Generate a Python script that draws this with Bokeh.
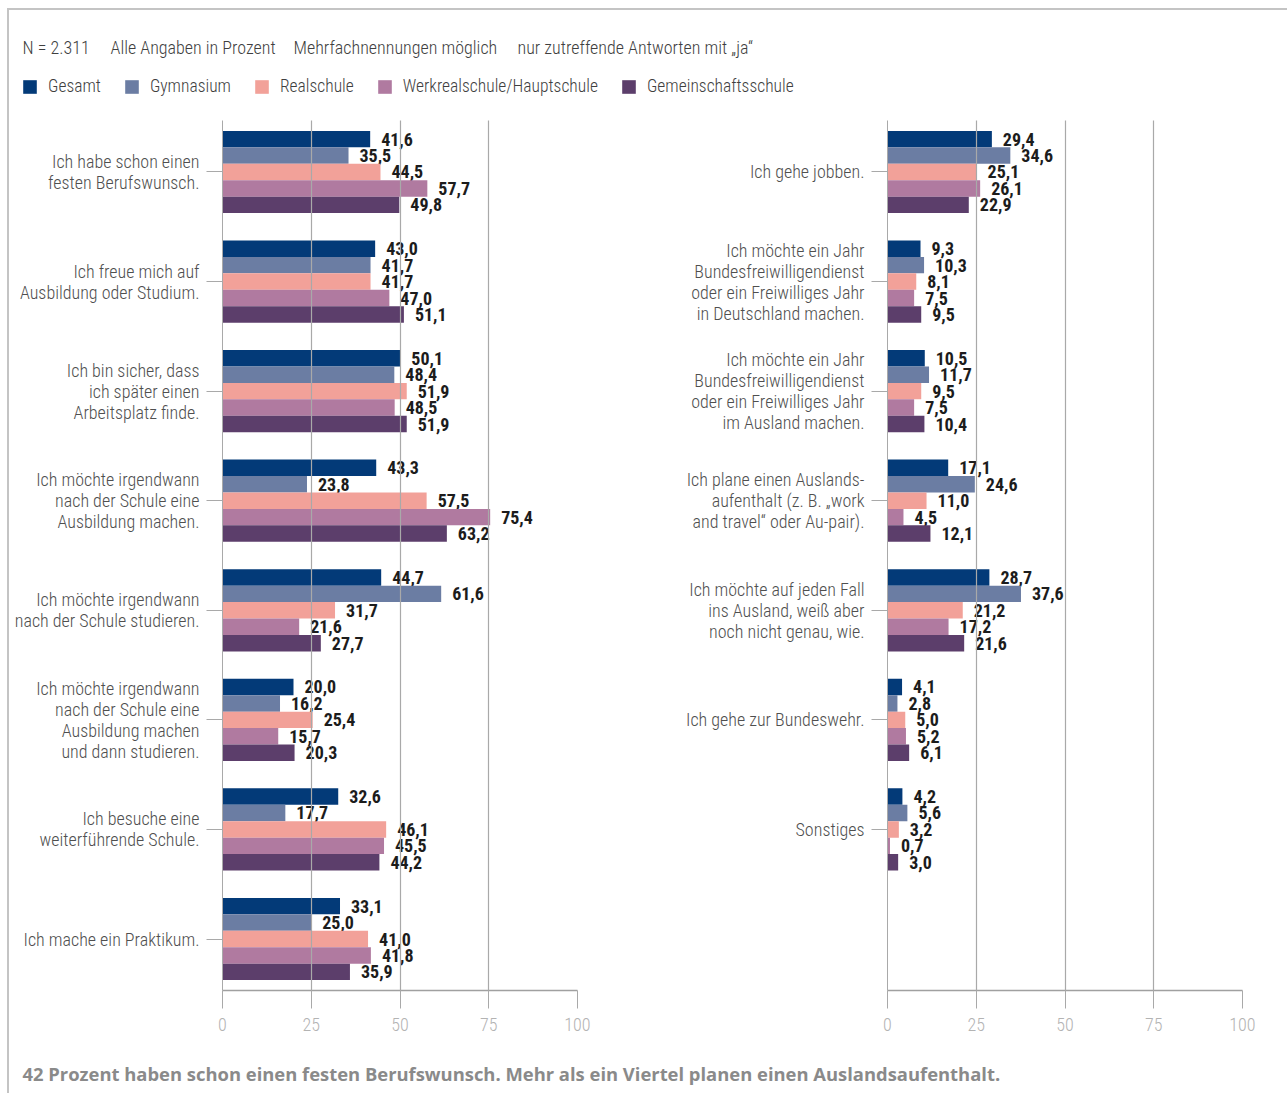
import numpy as np
import pandas as pd
from bokeh.plotting import figure
from bokeh.models import (Range1d, FixedTicker, ColumnDataSource, Legend, LegendItem, Label)
from bokeh.layouts import column, row
from bokeh.core.properties import value
from bokeh.embed import file_html
from bokeh.resources import INLINE

FONT = "Roboto Condensed, Roboto"
LIGHT_FONT = "Roboto Condensed Light, Roboto Condensed, Roboto"
FOOT_FONT = "Open Sans"

series = ["Gesamt", "Gymnasium", "Realschule", "Werkrealschule/Hauptschule", "Gemeinschaftsschule"]
colors = ["#033a78", "#6b7da3", "#f2a199", "#b07aa0", "#5c3e6b"]

header_texts = ["N = 2.311", "Alle Angaben in Prozent", "Mehrfachnennungen möglich",
                "nur zutreffende Antworten mit „ja“"]
footer_text = ("42 Prozent haben schon einen festen Berufswunsch. "
               "Mehr als ein Viertel planen einen Auslandsaufenthalt.")

x_ticks = [0, 25, 50, 75, 100]

left_categories = [
    "Ich habe schon einen\nfesten Berufswunsch.",
    "Ich freue mich auf\nAusbildung oder Studium.",
    "Ich bin sicher, dass\nich später einen\nArbeitsplatz finde.",
    "Ich möchte irgendwann\nnach der Schule eine\nAusbildung machen.",
    "Ich möchte irgendwann\nnach der Schule studieren.",
    "Ich möchte irgendwann\nnach der Schule eine\nAusbildung machen\nund dann studieren.",
    "Ich besuche eine\nweiterführende Schule.",
    "Ich mache ein Praktikum.",
]
left_gesamt = [41.6, 43.0, 50.1, 43.3, 44.7, 20.0, 32.6, 33.1]
left_gymnasium = [35.5, 41.7, 48.4, 23.8, 61.6, 16.2, 17.7, 25.0]
left_realschule = [44.5, 41.7, 51.9, 57.5, 31.7, 25.4, 46.1, 41.0]
left_werkreal = [57.7, 47.0, 48.5, 75.4, 21.6, 15.7, 45.5, 41.8]
left_gemeinschaft = [49.8, 51.1, 51.9, 63.2, 27.7, 20.3, 44.2, 35.9]

right_categories = [
    "Ich gehe jobben.",
    "Ich möchte ein Jahr\nBundesfreiwilligendienst\noder ein Freiwilliges Jahr\nin Deutschland machen.",
    "Ich möchte ein Jahr\nBundesfreiwilligendienst\noder ein Freiwilliges Jahr\nim Ausland machen.",
    "Ich plane einen Auslands-\naufenthalt (z. B. „work\nand travel“ oder Au-pair).",
    "Ich möchte auf jeden Fall\nins Ausland, weiß aber\nnoch nicht genau, wie.",
    "Ich gehe zur Bundeswehr.",
    "Sonstiges",
]
right_gesamt = [29.4, 9.3, 10.5, 17.1, 28.7, 4.1, 4.2]
right_gymnasium = [34.6, 10.3, 11.7, 24.6, 37.6, 2.8, 5.6]
right_realschule = [25.1, 8.1, 9.5, 11.0, 21.2, 5.0, 3.2]
right_werkreal = [26.1, 7.5, 7.5, 4.5, 17.2, 5.2, 0.7]
right_gemeinschaft = [22.9, 9.5, 10.4, 12.1, 21.6, 6.1, 3.0]

OFFSETS = [-0.3, -0.15, 0.0, 0.15, 0.3]
BAR_H = 0.15
GRID_C = "#a9a9a9"


def fmt(v):
    return f"{v:.1f}".replace(".", ",")


def make_panel(cats, vals, width, mbl, mbr):
    p = figure(width=width, height=935, output_backend="svg", toolbar_location=None,
               x_range=Range1d(0, 100), y_range=Range1d(7.47, -0.47),
               min_border_left=mbl, min_border_right=mbr, min_border_top=10,
               min_border_bottom=55)
    p.outline_line_color = None
    p.background_fill_color = "white"
    p.border_fill_color = "white"
    for name, col, off, v in zip(series, colors, OFFSETS, vals):
        df = pd.DataFrame({"idx": np.arange(len(cats)), "v": v})
        df["y"] = df["idx"] + off
        df["lab"] = [fmt(x) for x in v]
        src = ColumnDataSource(df)
        p.hbar(y="y", left=0, right="v", height=BAR_H, source=src,
               fill_color=col, line_color=None)
        p.text(x="v", y="y", text="lab", source=src, x_offset=11,
               text_align="left", text_baseline="middle",
               text_font=value(FONT), text_font_style="bold",
               text_font_size="18px", text_color="#1c1c1c")
    # y axis with category labels
    ya = p.yaxis[0]
    ya.ticker = FixedTicker(ticks=list(range(len(cats))))
    ya.major_label_overrides = {i: c for i, c in enumerate(cats)}
    ya.major_tick_out = 16
    ya.major_tick_in = 0
    ya.minor_tick_line_color = None
    ya.major_tick_line_color = GRID_C
    ya.axis_line_color = GRID_C
    ya.major_label_standoff = 7
    ya.major_label_text_font = LIGHT_FONT
    ya.major_label_text_font_size = "18px"
    ya.major_label_text_color = "#4f4f4f"
    ya.major_label_text_line_height = 1.0
    # x axis
    xa = p.xaxis[0]
    xa.ticker = FixedTicker(ticks=x_ticks)
    xa.major_tick_out = 18
    xa.major_tick_in = 0
    xa.minor_tick_line_color = None
    xa.major_tick_line_color = GRID_C
    xa.axis_line_color = "#a0a0a0"
    xa.axis_line_width = 1.5
    xa.major_label_standoff = 9
    xa.major_label_text_font = LIGHT_FONT
    xa.major_label_text_font_size = "18px"
    xa.major_label_text_color = "#b3b3b3"
    # grid
    p.xgrid.ticker = FixedTicker(ticks=x_ticks)
    p.xgrid.grid_line_color = GRID_C
    p.xgrid.grid_line_width = 1.2
    p.xgrid.level = "overlay"
    p.ygrid.visible = False
    return p


left_vals = [left_gesamt, left_gymnasium, left_realschule, left_werkreal, left_gemeinschaft]
right_vals = [right_gesamt, right_gymnasium, right_realschule, right_werkreal, right_gemeinschaft]

pl = make_panel(left_categories, left_vals, 654, 213, 86)
pr = make_panel(right_categories, right_vals, 624, 224, 45)

# header with notes and legend
h = figure(width=1278, height=100, output_backend="svg", toolbar_location=None,
           x_range=Range1d(0, 1278), y_range=Range1d(100, 0),
           x_axis_location=None, y_axis_location=None, min_border=0)
h.outline_line_color = None
h.grid.visible = False
for tx, xpos in zip(header_texts, [13, 101, 284, 508]):
    h.add_layout(Label(x=xpos, y=37, text=tx, text_baseline="middle", text_align="left",
                       text_font=LIGHT_FONT, text_font_size="18px", text_color="#3f3f3f"))
items = []
for name, col in zip(series, colors):
    r = h.hbar(y=[0], left=[0], right=[0], height=1, fill_color=col, line_color=None)
    items.append(LegendItem(label=name, renderers=[r]))
leg = Legend(items=items, orientation="horizontal", location=(12, 14),
             glyph_width=17, glyph_height=17, label_standoff=10, spacing=22,
             padding=0, margin=0, border_line_color=None, background_fill_alpha=0,
             label_text_font=LIGHT_FONT, label_text_font_size="17.5px",
             label_text_color="#3f3f3f", label_height=17)
h.add_layout(leg)

# footer
f = figure(width=1278, height=48, output_backend="svg", toolbar_location=None,
           x_range=Range1d(0, 1278), y_range=Range1d(48, 0),
           x_axis_location=None, y_axis_location=None, min_border=0)
f.outline_line_color = None
f.grid.visible = False
f.add_layout(Label(x=13, y=28, text=footer_text, text_baseline="middle", text_align="left",
                   text_font=FOOT_FONT, text_font_style="bold",
                   text_font_size="18.4px", text_color="#8a8a8a"))

layout = column(h, row(pl, pr), f,
                styles={"margin-left": "7px", "margin-top": "8px",
                        "border-top": "2px solid #c4c4c4", "border-left": "2px solid #c4c4c4"})

open("out.html", "w").write(file_html(layout, INLINE))
